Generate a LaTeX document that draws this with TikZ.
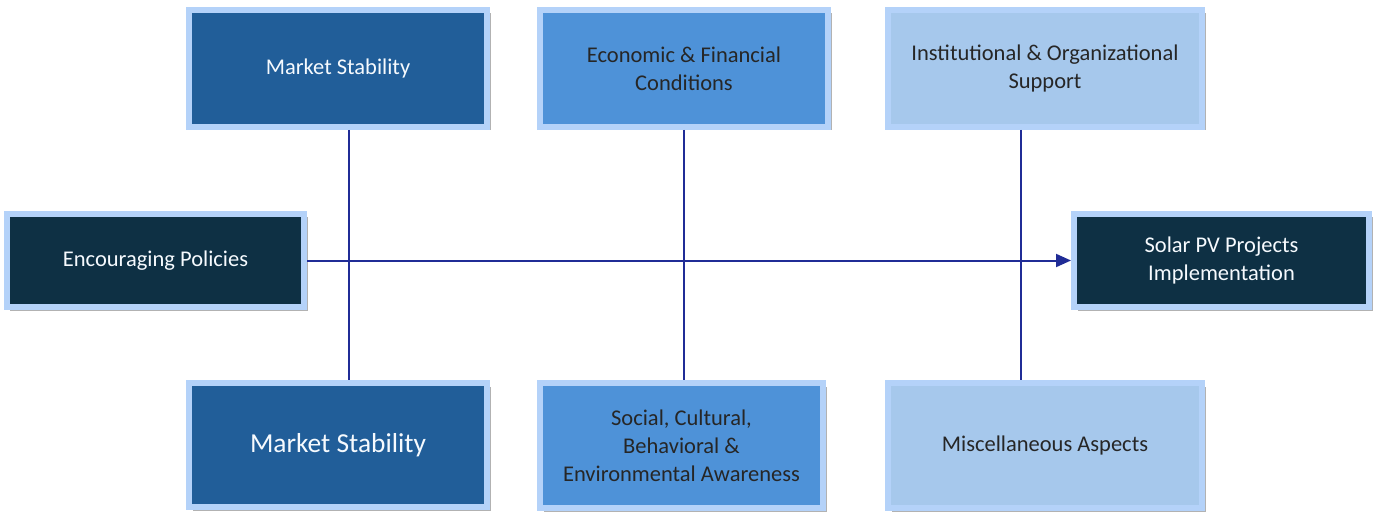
\documentclass[tikz,border=0pt]{standalone}
\usepackage{fontspec}
\setmainfont{Carlito}
\usetikzlibrary{arrows.meta,shadows}
\definecolor{rim}{RGB}{180,210,249}
\definecolor{navy}{RGB}{14,48,68}
\definecolor{steel}{RGB}{33,94,153}
\definecolor{mid}{RGB}{78,146,216}
\definecolor{pale}{RGB}{166,200,236}
\definecolor{spine}{RGB}{32,44,150}

\begin{document}
\begin{tikzpicture}[x=0.02cm,y=-0.02cm,
  box/.style={draw=rim,line width=0.12cm,align=center,inner sep=0pt,
    font=\fontsize{12.8}{16}\selectfont,
    drop shadow={shadow xshift=0.07cm,shadow yshift=-0.07cm,fill=black,opacity=0.3}},
  dark/.style={box,fill=navy,text=white!88!rim},
  deep/.style={box,fill=steel,text=white!88!rim},
  midbox/.style={box,fill=mid,text=black!85},
  palebox/.style={box,fill=pale,text=black!85}]
  \useasboundingbox (0,0) rectangle (1375,513);
  \node[deep,minimum width=298*0.02cm,minimum height=117*0.02cm] (ms1) at (338,68.5) {Market Stability};
  \node[midbox,minimum width=288*0.02cm,minimum height=117*0.02cm] (econ) at (684,68.5) {Economic \& Financial\\Conditions};
  \node[palebox,minimum width=314*0.02cm,minimum height=117*0.02cm] (inst) at (1045,68.5) {Institutional \& Organizational\\Support};
  \node[dark,minimum width=297*0.02cm,minimum height=93*0.02cm] (enc) at (155.5,260.5) {Encouraging Policies};
  \node[dark,minimum width=295*0.02cm,minimum height=93*0.02cm] (solar) at (1221.5,260.5) {Solar PV Projects\\Implementation};
  \node[deep,minimum width=298*0.02cm,minimum height=124*0.02cm,font=\fontsize{15.6}{19}\selectfont] (ms2) at (338,445) {Market Stability};
  \node[midbox,minimum width=283*0.02cm,minimum height=125*0.02cm] (soc) at (681.5,445.5) {Social, Cultural,\\Behavioral \&\\Environmental Awareness};
  \node[palebox,minimum width=314*0.02cm,minimum height=125*0.02cm] (misc) at (1045,445.5) {Miscellaneous Aspects};
  % spine positions
  \coordinate (s1) at (349,262);
  \coordinate (s2) at (684,262);
  \coordinate (s3) at (1021,262);
  \begin{scope}[draw=spine,line width=0.04cm]
    \draw (ms1.south -| s1) to (ms2.north -| s1);
    \draw (econ.south -| s2) to (soc.north -| s2);
    \draw (inst.south -| s3) to (misc.north -| s3);
    \draw[-{Triangle[length=0.3cm,width=0.26cm]}] (enc) to (solar);
  \end{scope}
\end{tikzpicture}
\end{document}
